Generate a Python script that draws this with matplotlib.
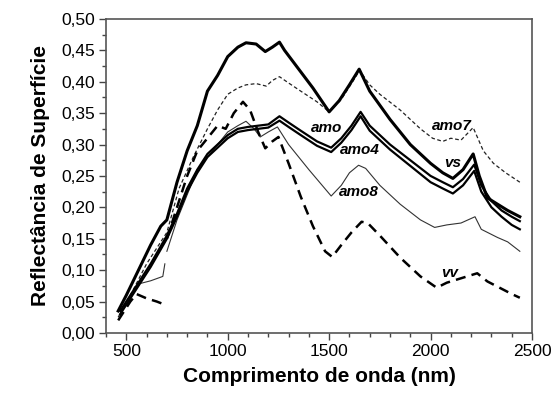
import numpy as np
import matplotlib
matplotlib.use("Agg")
import matplotlib.pyplot as plt
from matplotlib.ticker import MultipleLocator, FuncFormatter

plt.rcParams['font.family'] = ['Liberation Sans', 'DejaVu Sans']

# Reflectance curves (nan = gap between detector segments)
vs_x = [460, 500, 560, 620, 670, 700, 750, 800, 850, 900, 950, 1000, 1050, 1090, 1140, 1185, 1220, 1255,
        1280, 1350, 1420, 1500, 1550, 1600, 1648, 1700, 1800, 1900, 2000, 2060, 2110, 2160, 2210, 2240,
        2280, 2330, 2380, 2440]
vs_y = [0.035, 0.06, 0.10, 0.14, 0.17, 0.18, 0.24, 0.29, 0.33, 0.385, 0.41, 0.44, 0.455, 0.462, 0.46, 0.448,
        0.455, 0.463, 0.45, 0.42, 0.39, 0.352, 0.37, 0.395, 0.42, 0.385, 0.34, 0.30, 0.27, 0.255, 0.246, 0.26,
        0.285, 0.25, 0.215, 0.205, 0.195, 0.185]

amo7_x = [460, 520, 600, 680, 700, 760, 830, 900, 950, 1000, 1050, 1090, 1140, 1190, 1220, 1255, 1300, 1360,
          1440, 1500, 1560, 1610, 1650, 1700, 1750, 1850, 1950, 2010, 2060, 2100, 2150, 2210, 2260, 2310,
          2370, 2440]
amo7_y = [0.025, 0.06, 0.11, 0.15, 0.16, 0.23, 0.28, 0.325, 0.355, 0.38, 0.39, 0.395, 0.397, 0.393, 0.402,
          0.408, 0.398, 0.385, 0.368, 0.352, 0.372, 0.397, 0.418, 0.395, 0.38, 0.355, 0.325, 0.31, 0.305, 0.31,
          0.307, 0.327, 0.29, 0.27, 0.255, 0.24]

amo_x = [470, 550, 620, 700, 750, 800, 850, 900, 950, 1000, 1050, 1100, 1150, 1200, 1255, 1300, 1360, 1440,
         1510, 1560, 1610, 1655, 1700, 1800, 1900, 2000, 2060, 2110, 2160, 2215, 2250, 2300, 2350, 2400, 2440]
amo_y = [0.035, 0.075, 0.11, 0.155, 0.19, 0.23, 0.26, 0.285, 0.30, 0.315, 0.325, 0.328, 0.33, 0.332, 0.345,
         0.335, 0.322, 0.305, 0.295, 0.31, 0.33, 0.352, 0.33, 0.30, 0.275, 0.25, 0.24, 0.232, 0.245, 0.268,
         0.235, 0.21, 0.195, 0.185, 0.178]

amo4_x = [470, 550, 620, 700, 750, 800, 850, 900, 950, 1000, 1050, 1100, 1150, 1200, 1255, 1300, 1360, 1440,
          1510, 1560, 1610, 1655, 1700, 1800, 1900, 2000, 2060, 2110, 2160, 2215, 2250, 2300, 2350, 2400, 2440]
amo4_y = [0.03, 0.07, 0.105, 0.15, 0.185, 0.225, 0.255, 0.28, 0.295, 0.31, 0.32, 0.323, 0.325, 0.327, 0.338,
          0.328, 0.315, 0.298, 0.288, 0.303, 0.323, 0.345, 0.322, 0.292, 0.266, 0.24, 0.23, 0.222, 0.235,
          0.258, 0.225, 0.2, 0.185, 0.172, 0.165]

amo8_x = [470, 520, 560, 620, 680, 690, np.nan, 700, 750, 800, 850, 900, 950, 1000, 1050, 1090, 1130, 1160,
          1200, 1245, 1300, 1400, 1510, 1560, 1600, 1645, 1680, 1750, 1850, 1950, 2020, 2080, 2150, 2219,
          2250, 2330, 2380, 2440]
amo8_y = [0.03, 0.055, 0.078, 0.083, 0.09, 0.11, np.nan, 0.13, 0.18, 0.22, 0.26, 0.28, 0.30, 0.32, 0.33,
          0.337, 0.325, 0.312, 0.32, 0.328, 0.30, 0.26, 0.218, 0.235, 0.255, 0.267, 0.262, 0.235, 0.205, 0.18,
          0.168, 0.172, 0.175, 0.185, 0.165, 0.152, 0.145, 0.13]

vv_x = [460, 480, 520, 550, 600, 650, 690, np.nan, 700, 750, 800, 850, 900, 950, 990, 1030, 1075, 1110, 1150,
        1185, 1220, 1250, 1300, 1360, 1420, 1480, 1515, 1560, 1610, 1660, 1690, 1750, 1850, 1950, 2030, 2080,
        2150, 2230, 2280, 2340, 2400, 2440]
vv_y = [0.02, 0.03, 0.05, 0.062, 0.055, 0.05, 0.045, np.nan, 0.15, 0.2, 0.25, 0.29, 0.31, 0.33, 0.325, 0.35,
        0.368, 0.355, 0.32, 0.294, 0.305, 0.312, 0.27, 0.217, 0.17, 0.13, 0.121, 0.14, 0.16, 0.177, 0.175,
        0.155, 0.12, 0.09, 0.072, 0.08, 0.087, 0.095, 0.082, 0.072, 0.062, 0.056]

# label text and where it sits (data coords)
labels = ["amo7", "vs", "amo", "amo4", "amo8", "vv"]
label_x = [2105, 2110, 1489, 1652, 1647, 2095]
label_y = [0.33, 0.27, 0.326, 0.291, 0.225, 0.095]

fig = plt.figure(figsize=(5.58, 3.94), dpi=100)
ax = fig.add_axes([0.19, 0.155, 0.7634, 0.797])

ax.plot(amo8_x, amo8_y, color='#333333', lw=0.8)
ax.plot(amo7_x, amo7_y, color='#222222', lw=0.9, ls=(0, (3, 2)))
ax.plot(vv_x, vv_y, color='black', lw=1.8, ls=(0, (4, 2.5)))
ax.plot(amo4_x, amo4_y, color='black', lw=1.6)
ax.plot(amo_x, amo_y, color='black', lw=1.6)
ax.plot(vs_x, vs_y, color='black', lw=2.2)

for txt, lx, ly in zip(labels, label_x, label_y):
    ax.text(lx, ly, txt, fontsize=11, fontweight='bold', fontstyle='italic', ha='center', va='center')

ax.set_xlim(400, 2500)
ax.set_ylim(0, 0.5)
ax.xaxis.set_major_locator(MultipleLocator(500))
ax.xaxis.set_minor_locator(MultipleLocator(100))
ax.yaxis.set_major_locator(MultipleLocator(0.05))
ax.yaxis.set_minor_locator(MultipleLocator(0.025))
ax.yaxis.set_major_formatter(FuncFormatter(lambda v, _: f"{v:.2f}".replace('.', ',')))

ax.tick_params(which='major', direction='out', length=5, width=1, labelsize=12.5, color='#444444', pad=3)
ax.tick_params(which='minor', direction='out', length=3, width=1, color='#444444')
for s in ax.spines.values():
    s.set_color('#555555')
    s.set_linewidth(1.2)

ax.set_xlabel("Comprimento de onda (nm)", fontsize=15, fontweight='bold', labelpad=6)
ax.set_ylabel("Reflectância de Superfície", fontsize=15, fontweight='bold', labelpad=8)

fig.savefig("out.png", dpi=100)
